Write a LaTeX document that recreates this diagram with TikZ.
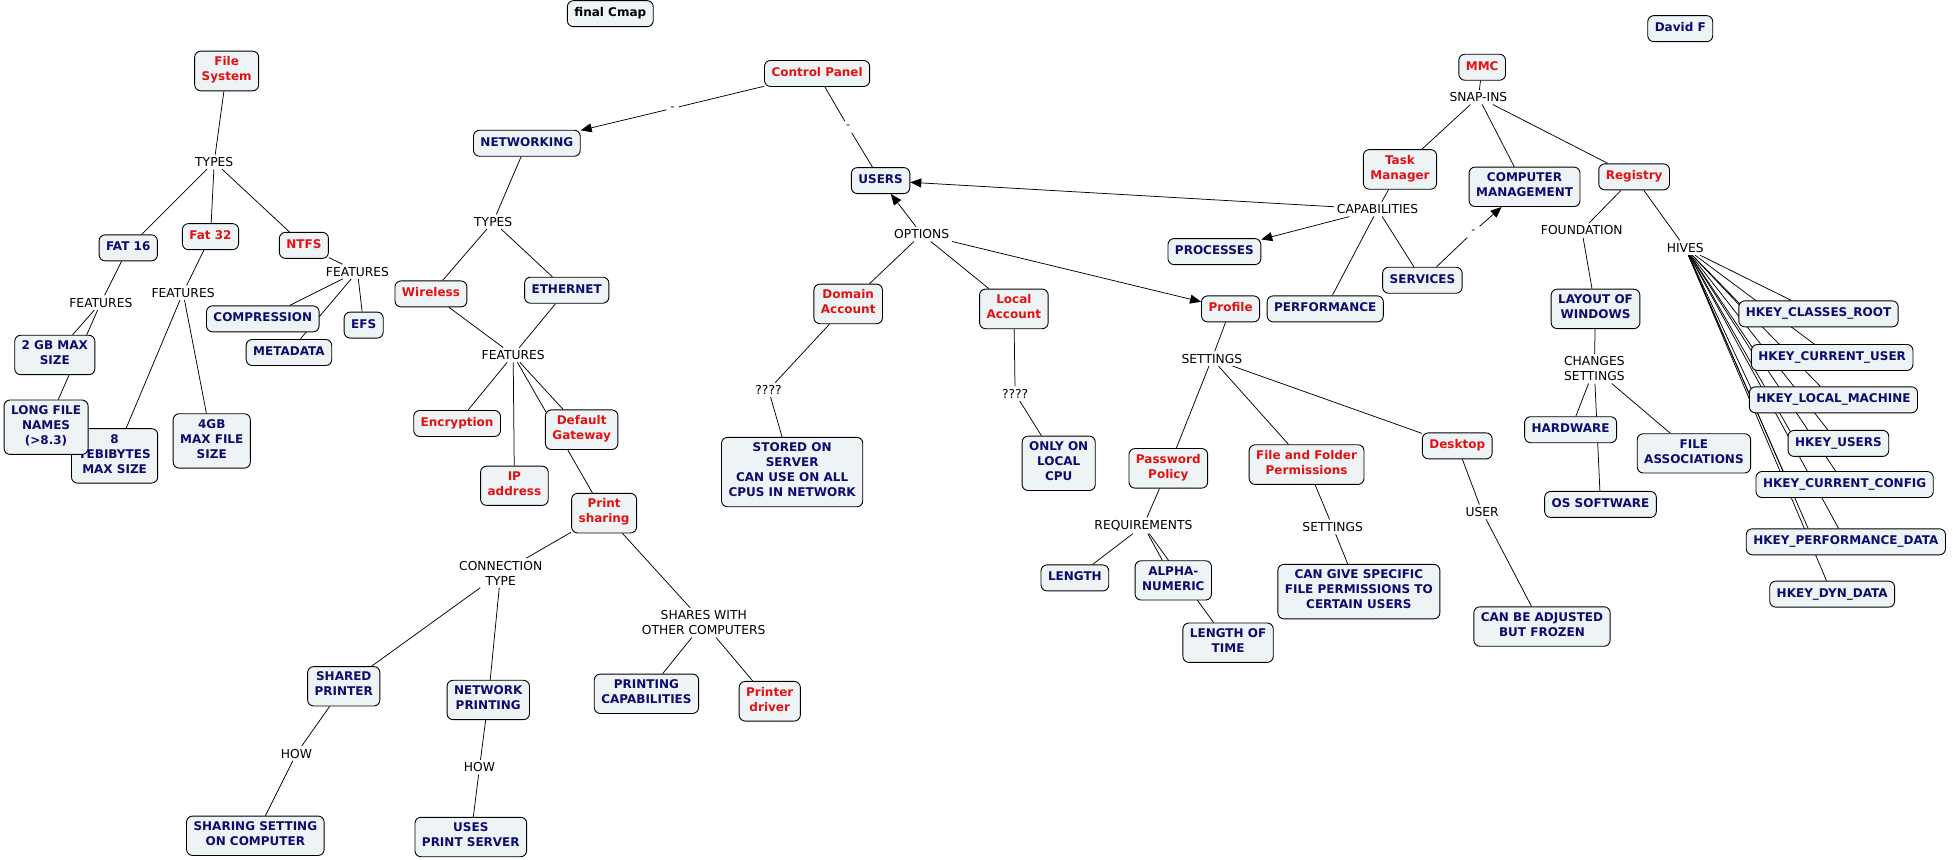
\documentclass[tikz,border=0pt]{standalone}
\usepackage{fontspec}
\setmainfont{DejaVu Sans}
\usetikzlibrary{arrows.meta,calc}
\definecolor{cred}{RGB}{226,18,18}
\definecolor{cnavy}{RGB}{12,12,110}
\definecolor{cfill}{RGB}{238,243,246}
\pgfdeclarelayer{back}
\pgfdeclarelayer{edges}
\pgfsetlayers{back,edges,main}
\tikzset{
  cbox/.style={draw=black, line width=0.9pt, rounded corners=6pt, fill=cfill,
    font=\bfseries\fontsize{12}{15}\selectfont, align=center,
    inner xsep=7pt, inner ysep=5.5pt,
    execute at begin node=\strut, execute at end node=\strut},
  rc/.style={cbox, text=cred},
  bc/.style={cbox, text=cnavy},
  kc/.style={cbox, text=black},
  lp/.style={font=\fontsize{12.3}{15}\selectfont, align=center, inner sep=2.5pt, text=black},
  dsh/.style={font=\fontsize{11}{12}\selectfont, inner sep=4pt, text=black},
  ln/.style={line width=0.75pt, draw=black},
  ar/.style={ln, -{Triangle[length=11pt,width=9pt]}}
}
\begin{document}
\begin{tikzpicture}[x=1.2455pt,y=-1.2455pt]
\useasboundingbox (0,0) rectangle (1568,690);
\begin{pgfonlayer}{back}
\fill[white] (0,0) rectangle (1568,690);
\end{pgfonlayer}

% ---------- concepts ----------
\node[kc] (FC) at (490,11) {final Cmap};
\node[bc] (DF) at (1349,23) {David F};
\node[rc] (FS) at (182,57) {File\\System};
\node[rc] (CP) at (656,59) {Control Panel};
\node[rc] (MMC) at (1190,54) {MMC};
\node[bc] (NW) at (423,115) {NETWORKING};
\node[bc] (USERS) at (707,145) {USERS};
\node[rc] (TM) at (1124,136) {Task\\Manager};
\node[bc] (CM) at (1224,150) {COMPUTER\\MANAGEMENT};
\node[rc] (REG) at (1312,142) {Registry};
\node[bc] (FAT16) at (103,199) {FAT 16};
\node[rc] (FAT32) at (169,190) {Fat 32};
\node[rc] (NTFS) at (244,197) {NTFS};
\node[bc] (PROC) at (975,202) {PROCESSES};
\node[bc] (PERF) at (1064,248) {PERFORMANCE};
\node[bc] (SERV) at (1142,225) {SERVICES};
\node[rc] (PROF) at (988,248) {Profile};
\node[bc] (LOW) at (1281,248) {LAYOUT OF\\WINDOWS};
\node[rc] (WL) at (346,236) {Wireless};
\node[bc] (ETH) at (455,233) {ETHERNET};
\node[rc] (DA) at (681,244) {Domain\\Account};
\node[rc] (LA) at (814,248) {Local\\Account};
\node[bc] (COMP) at (211,256) {COMPRESSION};
\node[bc] (EFS) at (292,261) {EFS};
\node[bc] (META) at (232,283) {METADATA};
\node[bc] (GB2) at (44,285) {2 GB MAX\\SIZE};
\node[bc] (TEB) at (92,366) {8\\TEBIBYTES\\MAX SIZE};
\node[bc] (LFN) at (37,343) {LONG FILE\\NAMES\\(>8.3)};
\node[bc] (GB4) at (170,354) {4GB\\MAX FILE\\SIZE};
\node[rc] (ENC) at (367,340) {Encryption};
\node[rc] (DG) at (467,345) {Default\\Gateway};
\node[rc] (IP) at (413,390) {IP\\address};
\node[rc] (PS) at (485,412) {Print\\sharing};
\node[bc] (SOS) at (636,379) {STORED ON\\SERVER\\CAN USE ON ALL\\CPUS IN NETWORK};
\node[bc] (OLC) at (850,372) {ONLY ON\\LOCAL\\CPU};
\node[rc] (PP) at (938,376) {Password\\Policy};
\node[rc] (FFP) at (1049,373) {File and Folder\\Permissions};
\node[rc] (DESK) at (1170,358) {Desktop};
\node[bc] (HW) at (1261,345) {HARDWARE};
\node[bc] (FA) at (1360,364) {FILE\\ASSOCIATIONS};
\node[bc] (OSS) at (1285,405) {OS SOFTWARE};
\node[bc] (HK1) at (1460,252) {HKEY\_CLASSES\_ROOT};
\node[bc] (HK2) at (1471,287) {HKEY\_CURRENT\_USER};
\node[bc] (HK3) at (1472,321) {HKEY\_LOCAL\_MACHINE};
\node[bc] (HK4) at (1476,356) {HKEY\_USERS};
\node[bc] (HK5) at (1481,389) {HKEY\_CURRENT\_CONFIG};
\node[bc] (HK6) at (1482,435) {HKEY\_PERFORMANCE\_DATA};
\node[bc] (HK7) at (1471,477) {HKEY\_DYN\_DATA};
\node[bc] (LEN) at (863,464) {LENGTH};
\node[bc] (AN) at (942,466) {ALPHA-\\NUMERIC};
\node[bc] (LOT) at (986,516) {LENGTH OF\\TIME};
\node[bc] (CGS) at (1091,475) {CAN GIVE SPECIFIC\\FILE PERMISSIONS TO\\CERTAIN USERS};
\node[bc] (CBA) at (1238,503) {CAN BE ADJUSTED\\BUT FROZEN};
\node[bc] (SP) at (276,551) {SHARED\\PRINTER};
\node[bc] (NP) at (392,562) {NETWORK\\PRINTING};
\node[bc] (PC) at (519,557) {PRINTING\\CAPABILITIES};
\node[rc] (PD) at (618,563) {Printer\\driver};
\node[bc] (SSC) at (205,671) {SHARING SETTING\\ON COMPUTER};
\node[bc] (UPS) at (378,672) {USES\\PRINT SERVER};

% ---------- linking phrases ----------
\node[lp] (T1) at (172,130) {TYPES};
\node[lp] (F1) at (81,243) {FEATURES};
\node[lp] (F2) at (147,235) {FEATURES};
\node[lp] (F3) at (287,218) {FEATURES};
\node[lp] (T2) at (396,178) {TYPES};
\node[lp] (F4) at (412,285) {FEATURES};
\node[lp] (CT) at (402,460) {CONNECTION\\TYPE};
\node[lp] (H1) at (238,605) {HOW};
\node[lp] (H2) at (385,616) {HOW};
\node[lp] (SW) at (565,500) {SHARES WITH\\OTHER COMPUTERS};
\node[lp] (OPT) at (740,188) {OPTIONS};
\node[lp] (Q1) at (617,313) {????};
\node[lp] (Q2) at (815,316) {????};
\node[lp] (S1) at (973,288) {SETTINGS};
\node[lp] (REQ) at (918,422) {REQUIREMENTS};
\node[lp] (S2) at (1070,423) {SETTINGS};
\node[lp] (U1) at (1190,411) {USER};
\node[lp] (SI) at (1187,78) {SNAP-INS};
\node[lp] (CAP) at (1106,168) {CAPABILITIES};
\node[lp] (FND) at (1270,185) {FOUNDATION};
\node[lp] (HIV) at (1353,199) {HIVES};
\node[lp] (CS) at (1280,296) {CHANGES\\SETTINGS};
\node[dsh] (D1) at (540,87) {-};
\node[dsh] (D2) at (681,102) {-};
\node[dsh] (D3) at (1183,186) {-};

% ---------- connectors ----------
\begin{pgfonlayer}{edges}
\draw[ln] (FS) -- (T1);
\draw[ln] (T1) -- (FAT16);
\draw[ln] (T1) -- (FAT32);
\draw[ln] (T1) -- (NTFS);
\draw[ln] (FAT16) -- (F1);
\draw[ln] (F1) -- (GB2);
\draw[ln] (F1) -- (LFN);
\draw[ln] (FAT32) -- (F2);
\draw[ln] (F2) -- (TEB);
\draw[ln] (F2) -- (GB4);
\draw[ln] (NTFS) -- (F3);
\draw[ln] (F3) -- (COMP);
\draw[ln] (F3) -- (META);
\draw[ln] (F3) -- (EFS);
\draw[ln] (CP) -- (D1);
\draw[ar] (D1) -- (NW);
\draw[ln] (CP) -- (D2);
\draw[ln] (D2) -- (USERS);
\draw[ln] (NW) -- (T2);
\draw[ln] (T2) -- (WL);
\draw[ln] (T2) -- (ETH);
\draw[ln] (WL) -- (F4);
\draw[ln] (ETH) -- (F4);
\draw[ln] (F4) -- (ENC);
\draw[ln] (F4) -- (IP);
\draw[ln] (F4) -- (DG);
\draw[ln] (F4) -- (PS);
\draw[ln] (PS) -- (CT);
\draw[ln] (CT) -- (SP);
\draw[ln] (CT) -- (NP);
\draw[ln] (PS) -- (SW);
\draw[ln] (SW) -- (PC);
\draw[ln] (SW) -- (PD);
\draw[ln] (SP) -- (H1);
\draw[ln] (H1) -- (SSC);
\draw[ln] (NP) -- (H2);
\draw[ln] (H2) -- (UPS);
\draw[ar] (OPT) -- (USERS);
\draw[ln] (OPT) -- (DA);
\draw[ln] (OPT) -- (LA);
\draw[ar] (OPT) -- (PROF);
\draw[ln] (DA) -- (Q1);
\draw[ln] (Q1) -- (SOS);
\draw[ln] (LA) -- (Q2);
\draw[ln] (Q2) -- (OLC);
\draw[ln] (PROF) -- (S1);
\draw[ln] (S1) -- (PP);
\draw[ln] (S1) -- (FFP);
\draw[ln] (S1) -- (DESK);
\draw[ln] (PP) -- (REQ);
\draw[ln] (REQ) -- (LEN);
\draw[ln] (REQ) -- (AN);
\draw[ln] (REQ) -- (LOT);
\draw[ln] (FFP) -- (S2);
\draw[ln] (S2) -- (CGS);
\draw[ln] (DESK) -- (U1);
\draw[ln] (U1) -- (CBA);
\draw[ln] (MMC) -- (SI);
\draw[ln] (SI) -- (TM);
\draw[ln] (SI) -- (CM);
\draw[ln] (SI) -- (REG);
\draw[ln] (TM) -- (CAP);
\draw[ar] (CAP) -- (USERS);
\draw[ar] (CAP) -- (PROC);
\draw[ln] (CAP) -- (PERF);
\draw[ln] (CAP) -- (SERV);
\draw[ln] (SERV) -- (D3);
\draw[ar] (D3) -- (CM);
\draw[ln] (REG) -- (FND);
\draw[ln] (FND) -- (LOW);
\draw[ln] (LOW) -- (CS);
\draw[ln] (CS) -- (HW);
\draw[ln] (CS) -- (OSS);
\draw[ln] (CS) -- (FA);
\draw[ln] (REG) -- (HIV);
\foreach \k in {HK1,HK2,HK3,HK4,HK5,HK6,HK7} {\draw[ln] (HIV) -- (\k);}
\draw[ln] (HIV) -- ($(HK1.north west)+(2,5)$);
\draw[ln] (HIV) -- ($(HK2.north west)+(2,8)$);
\draw[ln] (HIV) -- ($(HK3.north west)+(2,2)$);
\draw[ln] (HIV) -- ($(HK4.north west)+(2,1)$);
\draw[ln] (HIV) -- ($(HK5.north west)+(22,0)$);
\draw[ln] (HIV) -- ($(HK6.north west)+(50,0)$);
\end{pgfonlayer}
\end{tikzpicture}
\end{document}
